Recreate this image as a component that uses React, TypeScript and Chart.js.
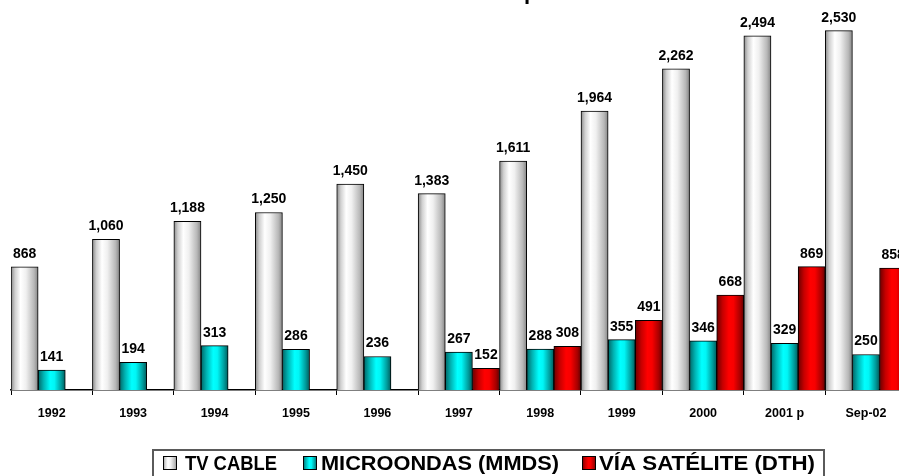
import React, { useEffect, useRef } from "react";
import { Chart, registerables } from "chart.js";

Chart.register(...registerables);

// ---------- data ----------
const categories = ["1992", "1993", "1994", "1995", "1996", "1997", "1998", "1999", "2000", "2001 p", "Sep-02"];
const tvCable = [868, 1060, 1188, 1250, 1450, 1383, 1611, 1964, 2262, 2494, 2530];
const microondas = [141, 194, 313, 286, 236, 267, 288, 355, 346, 329, 250];
const viaSatelite: (number | null)[] = [null, null, null, null, null, 152, 308, 491, 668, 869, 858];
const seriesNames = ["TV CABLE", "MICROONDAS (MMDS)", "VÍA SATÉLITE (DTH)"];
const titleText = "Suscriptores";

// ---------- styles ----------
const FONT = '"Liberation Sans", Arial, Helvetica, sans-serif';
const W = 920;
const H = 476;
const Y_MAX = 2746;

type Stops = [number, string][];
const gradStops: Stops[] = [
  [[0, "#8a8a8a"], [0.15, "#d0d0d0"], [0.35, "#ffffff"], [0.55, "#f0f0f0"], [0.85, "#b8b8b8"], [1, "#858585"]],
  [[0, "#006666"], [0.2, "#00b2b2"], [0.45, "#00ffff"], [0.6, "#00f6f6"], [0.85, "#009c9c"], [1, "#005c5c"]],
  [[0, "#6a0000"], [0.22, "#c60000"], [0.45, "#ff0000"], [0.62, "#f80000"], [0.87, "#a60000"], [1, "#600000"]],
];
const solid = ["#e0e0e0", "#00d0d0", "#dd0000"];

function makeGrad(c: CanvasRenderingContext2D, left: number, width: number, stops: Stops) {
  const g = c.createLinearGradient(left, 0, left + width, 0);
  stops.forEach(([o, col]) => g.addColorStop(o, col));
  return g;
}

function barFill(dsIndex: number) {
  return (ctx: any) => {
    const chart = ctx.chart;
    const xs = chart.scales && chart.scales.x;
    if (!xs || ctx.dataIndex == null || ctx.type !== "data") return solid[dsIndex];
    const catW = xs.width / categories.length;
    const bw = catW / 3;
    const center = xs.getPixelForValue(ctx.dataIndex);
    const left = center - catW / 2 + dsIndex * bw;
    if (!isFinite(left) || !isFinite(bw) || bw <= 0) return solid[dsIndex];
    return makeGrad(chart.ctx, left, bw, gradStops[dsIndex]);
  };
}

const fmt = (v: number) => v.toLocaleString("en-US");

const valueLabels = {
  id: "valueLabels",
  afterDatasetsDraw(chart: any) {
    const c: CanvasRenderingContext2D = chart.ctx;
    c.save();
    c.font = `bold 14px ${FONT}`;
    c.fillStyle = "#000";
    c.textAlign = "center";
    c.textBaseline = "alphabetic";
    chart.data.datasets.forEach((ds: any, i: number) => {
      const meta = chart.getDatasetMeta(i);
      meta.data.forEach((el: any, j: number) => {
        const v = ds.data[j];
        if (v == null) return;
        c.fillText(fmt(v), el.x, el.y - 9);
      });
    });
    c.restore();
  },
};

const legendLayout = [
  { sx: 163, tx: 185, tw: 92 },
  { sx: 303, tx: 321, tw: 238 },
  { sx: 582, tx: 599, tw: 216 },
];

const boxLegend = {
  id: "boxLegend",
  afterDraw(chart: any) {
    const c: CanvasRenderingContext2D = chart.ctx;
    c.save();
    c.strokeStyle = "#5a5a5a";
    c.lineWidth = 2;
    c.strokeRect(153, 450, 671, 40);
    c.font = `bold 20px ${FONT}`;
    c.textBaseline = "alphabetic";
    c.textAlign = "left";
    seriesNames.forEach((name, i) => {
      const L = legendLayout[i];
      c.fillStyle = makeGrad(c, L.sx, 14, gradStops[i]);
      c.fillRect(L.sx, 456, 14, 14);
      c.strokeStyle = "#000";
      c.lineWidth = 1;
      c.strokeRect(L.sx + 0.5, 456.5, 13, 13);
      const m = c.measureText(name).width;
      c.save();
      c.translate(L.tx, 469.5);
      c.scale(L.tw / m, 1);
      c.fillStyle = "#000";
      c.fillText(name, 0, 0);
      c.restore();
    });
    c.font = `bold 22px ${FONT}`;
    c.fillStyle = "#000";
    const pre = c.measureText("Suscri").width;
    c.fillText(titleText, 524 - pre, -1.5);
    c.restore();
  },
};

export default function App() {
  const ref = useRef<HTMLCanvasElement>(null);

  useEffect(() => {
    if (!ref.current) return;
    const chart = new Chart(ref.current, {
      type: "bar",
      data: {
        labels: categories,
        datasets: [
          { label: seriesNames[0], data: tvCable, backgroundColor: barFill(0) },
          { label: seriesNames[1], data: microondas, backgroundColor: barFill(1) },
          { label: seriesNames[2], data: viaSatelite, backgroundColor: barFill(2) },
        ].map((d) => ({
          ...d,
          borderColor: "#000",
          borderWidth: 1,
          categoryPercentage: 1,
          barPercentage: 1,
        })) as any,
      },
      options: {
        responsive: false,
        animation: false,
        devicePixelRatio: 1,
        layout: { padding: { left: 11, right: W - 906.7, top: 0, bottom: 56 } },
        plugins: {
          legend: { display: false },
          title: { display: false },
          tooltip: { enabled: false },
        },
        scales: {
          x: {
            z: 1,
            offset: true,
            grid: {
              offset: true,
              drawOnChartArea: false,
              drawTicks: true,
              tickLength: 5,
              color: "#000",
              lineWidth: 1,
            },
            border: { display: true, color: "#000", width: 1.5 },
            ticks: {
              color: "#000",
              font: { family: FONT, size: 12.5, weight: "bold" },
              padding: 11.5,
              maxRotation: 0,
              autoSkip: false,
            },
            afterFit: (s: any) => {
              s.height = 30;
            },
          },
          y: {
            display: false,
            min: 0,
            max: Y_MAX,
            grid: { display: false },
          },
        },
      },
      plugins: [valueLabels, boxLegend],
    });
    return () => chart.destroy();
  }, []);

  return (
    <div
      style={{
        position: "fixed",
        left: 0,
        top: 0,
        width: 899,
        height: 476,
        overflow: "hidden",
        background: "#fff",
      }}
    >
      <canvas ref={ref} width={W} height={H} style={{ display: "block", width: W, height: H }} />
    </div>
  );
}
